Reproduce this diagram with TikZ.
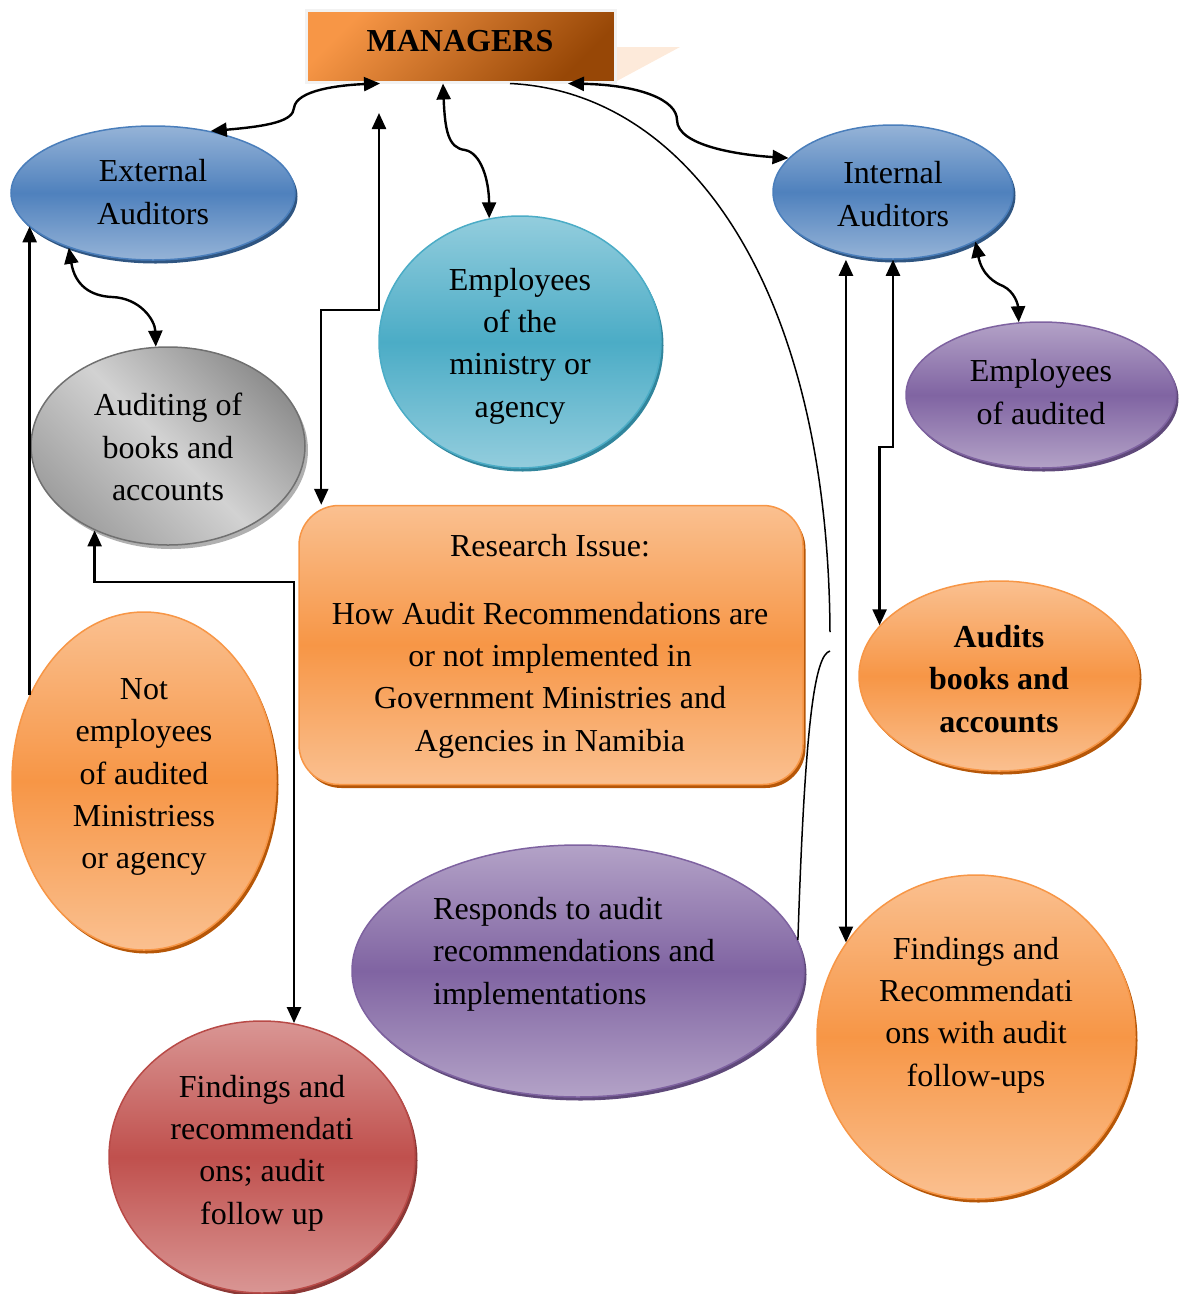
\documentclass[tikz,border=0pt]{standalone}
\usepackage{fontspec}
\setmainfont{Liberation Serif}
\usetikzlibrary{shapes.geometric,arrows.meta,shadows}
\newcommand\fsz{\fontsize{32}{42.3}\selectfont}
\definecolor{blueL}{HTML}{95B3D7}
\definecolor{blueM}{HTML}{4F81BD}
\definecolor{blueD}{HTML}{4A7EBB}
\definecolor{blueS}{HTML}{2F5581}
\definecolor{tealL}{HTML}{93CDDD}
\definecolor{tealM}{HTML}{4BACC6}
\definecolor{tealD}{HTML}{4BACC6}
\definecolor{tealS}{HTML}{31859C}
\definecolor{purpL}{HTML}{B3A2C7}
\definecolor{purpM}{HTML}{8064A2}
\definecolor{purpD}{HTML}{7E62A0}
\definecolor{purpS}{HTML}{5F497A}
\definecolor{oraL}{HTML}{FAC090}
\definecolor{oraM}{HTML}{F79646}
\definecolor{oraD}{HTML}{F79646}
\definecolor{oraS}{HTML}{B65708}
\definecolor{redL}{HTML}{D99694}
\definecolor{redM}{HTML}{C0504D}
\definecolor{redD}{HTML}{B84A47}
\definecolor{redS}{HTML}{8C3836}
\definecolor{grayL}{HTML}{D2D2D2}
\definecolor{grayK}{HTML}{8E8E8E}
\definecolor{grayD}{HTML}{707070}
\definecolor{grayS}{HTML}{B0B0B0}
\definecolor{mgrL}{HTML}{F79646}
\definecolor{mgrK}{HTML}{974706}
\definecolor{triC}{HTML}{FDEADA}
\tikzset{
  ell/.style={ellipse, inner sep=0pt, line width=1.5pt},
  blueE/.style={draw=blueD, top color=blueL, bottom color=blueL, middle color=blueM,
    drop shadow={shadow xshift=2.5pt,shadow yshift=-3.5pt,fill=blueS,opacity=1}},
  tealE/.style={draw=tealD, top color=tealL, bottom color=tealL, middle color=tealM,
    drop shadow={shadow xshift=2.5pt,shadow yshift=-3.5pt,fill=tealS,opacity=1}},
  purpE/.style={draw=purpD, top color=purpL, bottom color=purpL, middle color=purpM,
    drop shadow={shadow xshift=2.5pt,shadow yshift=-3.5pt,fill=purpS,opacity=1}},
  oraE/.style={draw=oraD, top color=oraL, bottom color=oraL, middle color=oraM,
    drop shadow={shadow xshift=2.5pt,shadow yshift=-3.5pt,fill=oraS,opacity=1}},
  redE/.style={draw=redD, top color=redL, bottom color=redL, middle color=redM,
    drop shadow={shadow xshift=2.5pt,shadow yshift=-3.5pt,fill=redS,opacity=1}},
  grayE/.style={draw=grayD, top color=grayK, bottom color=grayK!85!white, middle color=grayL, shading angle=-45,
    drop shadow={shadow xshift=3pt,shadow yshift=-4pt,fill=grayS,opacity=1}},
  lbl/.style={font=\fsz, align=center, inner sep=0pt},
  twoway/.style={line width=2.4pt, {Triangle[length=16pt,width=14pt]}-{Triangle[length=16pt,width=14pt]}},
  oneway/.style={line width=2.4pt, -{Triangle[length=16pt,width=14pt]}},
  thin/.style={line width=1.5pt}
}
\begin{document}
\begin{tikzpicture}[x=1pt,y=-1pt]
\useasboundingbox (0,0) rectangle (1184,1294);
% managers
\fill[triC] (615,47) -- (680,47) -- (615,82) -- cycle;
\node[rectangle, minimum width=309, minimum height=72, inner sep=0pt, draw=white!95!black, line width=3pt,
  top color=mgrL, bottom color=mgrK, shading angle=45] (mgr) at (460.5,46) {};
\node[lbl, font=\fsz\bfseries] (mgrT) at (460,41) {MANAGERS};
% shapes
\node[ell, blueE, minimum width=284, minimum height=134] (ext) at (153,193) {};
\node[ell, blueE, minimum width=240, minimum height=134] (int) at (893,192) {};
\node[ell, tealE, minimum width=282, minimum height=252] (emp) at (520,342) {};
\node[ell, grayE, minimum width=274, minimum height=198] (aud) at (168,446) {};
\node[ell, purpE, minimum width=270, minimum height=146] (ea) at (1041,395) {};
\node[rectangle, rounded corners=40pt, line width=1.5pt, oraE, inner sep=0pt,
  minimum width=504, minimum height=279] (res) at (551,645) {};
\node[ell, oraE, minimum width=280, minimum height=190] (abk) at (999,676) {};
\node[ell, oraE, minimum width=264, minimum height=338] (notemp) at (144,781) {};
\node[ell, purpE, minimum width=452, minimum height=252] (resp) at (578,971) {};
\node[ell, oraE, minimum width=318, minimum height=324] (finr) at (976,1037) {};
\node[ell, redE, minimum width=306, minimum height=272] (red) at (262,1157) {};
% texts
\node[lbl] (extT) at (153,192) {External\\Auditors};
\node[lbl] (intT) at (893,194) {Internal\\Auditors};
\node[lbl] (empT) at (520,346) {Employees\\of the\\ministry or\\agency};
\node[lbl] (audT) at (168,447) {Auditing of\\books and\\accounts};
\node[lbl] (eaT) at (1041,392) {Employees\\of audited};
\node[lbl] (resT1) at (550,546) {Research Issue:};
\node[lbl] (resT2) at (550,680) {How Audit Recommendations are\\or not implemented in\\Government Ministries and\\Agencies in Namibia};
\node[lbl, font=\fsz\bfseries] (abkT) at (999,679) {Audits\\books and\\accounts};
\node[lbl] (notempT) at (144,777) {Not\\employees\\of audited\\Ministriess\\or agency};
\node[lbl, align=left, anchor=west] (respT) at (433,954) {Responds to audit\\recommendations and\\implementations};
\node[lbl] (finrT) at (976,1015) {Findings and\\Recommendati\\ons with audit\\follow-ups};
\node[lbl] (redT) at (262,1153) {Findings and\\recommendati\\ons; audit\\follow up};
% coordinates
\coordinate (upEnd) at (379,113);
\coordinate (bendB) at (379,310);
\coordinate (hbend) at (294,582);
\coordinate (gapTop) at (830,632);
\coordinate (gapBot) at (830,651);
% connectors
\draw[twoway] (ext.47) .. controls (270,126) and (293,121) .. (294,108)
  .. controls (296,90) and (340,85) .. ([xshift=-80.5pt]mgr.south);
\draw[twoway] ([xshift=23pt]res.north west) |- (bendB) -- (upEnd);
\draw[twoway] ([xshift=-17.5pt]mgr.south) .. controls (445,130) and (448,148) .. (465,150)
  .. controls (481,153) and (489,180) .. (emp.104);
\draw[thin] ([xshift=49.5pt]mgr.south) .. controls (690,92) and (828,290) .. (gapTop);
\draw[thin] (gapBot) .. controls (815,655) and (805,720) .. (resp.8);
\draw[twoway] ([xshift=107.5pt]mgr.south) .. controls (640,85) and (677,100) .. (677,120)
  .. controls (677,146) and (740,155) .. (int.162);
\draw[twoway] (ext.213) .. controls (75,285) and (90,296) .. (112,297)
  .. controls (140,298) and (155,320) .. (aud.97);
\draw[oneway] (notemp.143) -- (notemp.143 |- ext.195);
\draw[twoway] (aud.229) |- (hbend) -- (hbend |- red.77);
\draw[twoway] (finr.144.5) -- (finr.144.5 |- int.south);
\draw[twoway] (int.south) -- ++(0,187) -| (abk.157);
\draw[twoway] (int.-31) .. controls (982,275) and (995,283) .. (1003,286)
  .. controls (1015,292) and (1018,305) .. (ea.107);
\end{tikzpicture}
\end{document}
